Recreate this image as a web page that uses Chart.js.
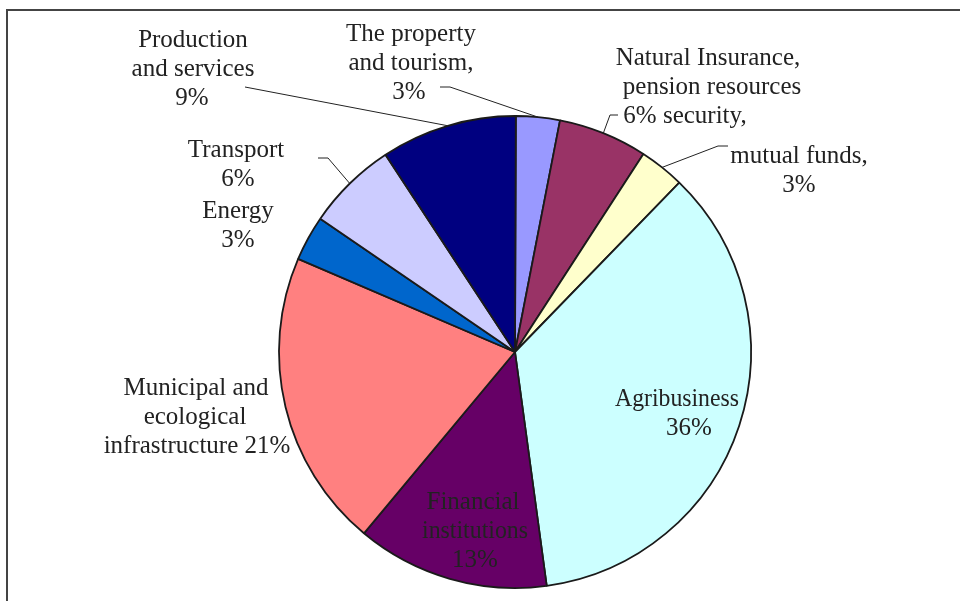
<!DOCTYPE html>
<html lang="en">

<head>
    <meta charset="UTF-8">
    <title>Investment structure</title>
    <style>
        body {
            margin: 0;
            background: #fff;
        }
        .blocker {
            position: relative;
            width: 960px;
            height: 601px;
            overflow: hidden;
        }
        .frame {
            position: absolute;
            left: 6px;
            top: 9px;
            width: 1000px;
            height: 700px;
            border-left: 2px solid #444;
            border-top: 2px solid #444;
        }
        canvas {
            position: absolute;
            left: 0;
            top: 0;
        }
    </style>
    <script src="https://cdn.jsdelivr.net/npm/chart.js"></script>
</head>

<body>
    <div class="blocker">
        <div class="frame"></div>
        <canvas id="myChart" width="960" height="601"></canvas>
    </div>

    <script>
        // slices, clockwise from 12 o'clock
        const categories = [
            'The property and tourism',
            'Natural resources',
            'Insurance, pension security, mutual funds',
            'Agribusiness',
            'Financial institutions',
            'Municipal and ecological infrastructure',
            'Energy',
            'Transport',
            'Production and services'
        ];
        // slice sizes
        const shares = [3.0, 6.1, 3.1, 35.6, 13.2, 20.4, 3.1, 6.2, 9.3];
        // percentages as printed in the labels
        const printed = ['3%', '6%', '3%', '36%', '13%', '21%', '3%', '6%', '9%'];
        const colors = ['#9999FF', '#993366', '#FFFFCC', '#CCFFFF', '#660066', '#FF8080', '#0066CC', '#CCCCFF', '#000080'];

        // label text as it is printed on the chart
        const labelLines = [
            ['The property', 'and tourism,', printed[0]],
            ['Natural Insurance,', 'pension resources', printed[1] + ' security,'],
            ['mutual funds,', printed[2]],
            ['Agribusiness', printed[3]],
            ['Financial', 'institutions', printed[4]],
            ['Municipal and', 'ecological', 'infrastructure ' + printed[5]],
            ['Energy', printed[6]],
            ['Transport', printed[7]],
            ['Production', 'and services', printed[8]]
        ];

        // placement relative to pie centre: x of each line's centre, baseline of first line
        const labelPlace = [
            { xs: [-104, -104, -106], y: -311 },
            { xs: [193, 197, 170], y: -287 },
            { xs: [284, 284], y: -189 },
            { xs: [162, 174], y: 54, w: 124 },
            { xs: [-42, -40, -40], y: 157, w: 106 },
            { xs: [-319, -320, -318], y: 43 },
            { xs: [-277, -277], y: -134 },
            { xs: [-279, -277], y: -195 },
            { xs: [-322, -322, -323], y: -305 }
        ];

        // leader lines: start near label, optional elbow, then to the slice's arc
        const leaders = {
            0: { x: -75, y: -265, ex: -65 },
            1: { x: 103, y: -237, ex: 95 },
            2: { x: 213, y: -206, ex: 203 },
            7: { x: -197, y: -194, ex: -187 },
            8: { x: -270, y: -265 }
        };

        const labelPlugin = {
            id: 'pieLabels',
            afterDatasetsDraw(chart) {
                const c = chart.ctx;
                const arcs = chart.getDatasetMeta(0).data;
                c.save();
                // leaders
                c.strokeStyle = '#222';
                c.lineWidth = 1;
                Object.keys(leaders).forEach(k => {
                    const p = arcs[k].getProps(['x', 'y', 'startAngle', 'endAngle', 'outerRadius'], true);
                    const mid = (p.startAngle + p.endAngle) / 2;
                    const L = leaders[k];
                    c.beginPath();
                    c.moveTo(p.x + L.x, p.y + L.y);
                    if (L.ex !== undefined) c.lineTo(p.x + L.ex, p.y + L.y);
                    c.lineTo(p.x + Math.cos(mid) * p.outerRadius, p.y + Math.sin(mid) * p.outerRadius);
                    c.stroke();
                });
                // texts
                c.font = '25px "Liberation Serif", "Times New Roman", serif';
                c.fillStyle = '#222';
                c.textAlign = 'center';
                c.textBaseline = 'alphabetic';
                const cx = arcs[0].x, cy = arcs[0].y;
                labelLines.forEach((lines, i) => {
                    const pl = labelPlace[i];
                    lines.forEach((t, j) => {
                        if (pl.w) {
                            c.fillText(t, cx + pl.xs[j], cy + pl.y + j * 29, pl.w);
                        } else {
                            c.fillText(t, cx + pl.xs[j], cy + pl.y + j * 29);
                        }
                    });
                });
                c.restore();
            }
        };

        const ctx = document.getElementById('myChart');

        new Chart(ctx, {
            type: 'pie',
            data: {
                labels: categories,
                datasets: [{
                    data: shares,
                    backgroundColor: colors,
                    borderColor: '#1a1a1a',
                    borderWidth: 1.8
                }]
            },
            options: {
                responsive: false,
                animation: false,
                rotation: 0.2,
                layout: {
                    padding: { left: 278.1, right: 208.1, top: 115.1, bottom: 12.1 }
                },
                plugins: {
                    legend: { display: false },
                    tooltip: { enabled: false }
                }
            },
            plugins: [labelPlugin]
        });
    </script>
</body>

</html>
